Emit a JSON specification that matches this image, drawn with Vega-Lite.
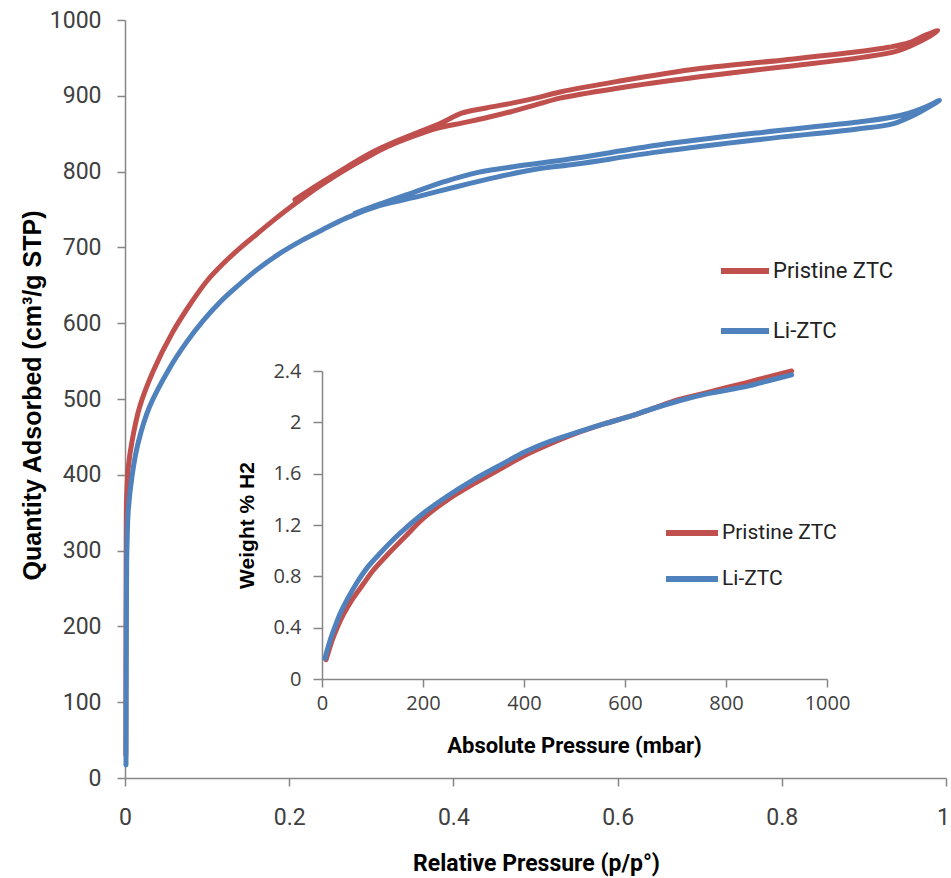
{
  "$schema": "https://vega.github.io/schema/vega-lite/v6.json",
  "width": 821,
  "height": 758,
  "autosize": "none",
  "padding": {"left": 125, "top": 20, "right": 5, "bottom": 100},
  "background": "white",
  "config": {
    "view": {"stroke": null},
    "axis": {"grid": false, "domainColor": "#868686", "tickColor": "#868686", "domainWidth": 1.5, "tickWidth": 1.5, "labelColor": "#404040", "titleColor": "#000000"},
    "legend": {"padding": 0}
  },
  "datasets": {
    "main": [
      {"sample": "Pristine ZTC", "p": 0.001, "q": 30},
      {"sample": "Pristine ZTC", "p": 0.0012, "q": 200},
      {"sample": "Pristine ZTC", "p": 0.0015, "q": 330},
      {"sample": "Pristine ZTC", "p": 0.002, "q": 372},
      {"sample": "Pristine ZTC", "p": 0.004, "q": 410},
      {"sample": "Pristine ZTC", "p": 0.0085, "q": 444},
      {"sample": "Pristine ZTC", "p": 0.018, "q": 490},
      {"sample": "Pristine ZTC", "p": 0.034, "q": 536},
      {"sample": "Pristine ZTC", "p": 0.058, "q": 588},
      {"sample": "Pristine ZTC", "p": 0.08, "q": 626},
      {"sample": "Pristine ZTC", "p": 0.1, "q": 656},
      {"sample": "Pristine ZTC", "p": 0.12, "q": 679},
      {"sample": "Pristine ZTC", "p": 0.14, "q": 699},
      {"sample": "Pristine ZTC", "p": 0.16, "q": 717},
      {"sample": "Pristine ZTC", "p": 0.18, "q": 735},
      {"sample": "Pristine ZTC", "p": 0.2, "q": 752},
      {"sample": "Pristine ZTC", "p": 0.22, "q": 768},
      {"sample": "Pristine ZTC", "p": 0.24, "q": 783},
      {"sample": "Pristine ZTC", "p": 0.26, "q": 797},
      {"sample": "Pristine ZTC", "p": 0.28, "q": 810},
      {"sample": "Pristine ZTC", "p": 0.3, "q": 822},
      {"sample": "Pristine ZTC", "p": 0.32, "q": 833},
      {"sample": "Pristine ZTC", "p": 0.34, "q": 842},
      {"sample": "Pristine ZTC", "p": 0.36, "q": 850},
      {"sample": "Pristine ZTC", "p": 0.38, "q": 857},
      {"sample": "Pristine ZTC", "p": 0.41, "q": 864},
      {"sample": "Pristine ZTC", "p": 0.44, "q": 871},
      {"sample": "Pristine ZTC", "p": 0.47, "q": 879},
      {"sample": "Pristine ZTC", "p": 0.5, "q": 888},
      {"sample": "Pristine ZTC", "p": 0.53, "q": 897},
      {"sample": "Pristine ZTC", "p": 0.6, "q": 910},
      {"sample": "Pristine ZTC", "p": 0.7, "q": 925},
      {"sample": "Pristine ZTC", "p": 0.8, "q": 938},
      {"sample": "Pristine ZTC", "p": 0.9, "q": 951},
      {"sample": "Pristine ZTC", "p": 0.94, "q": 959},
      {"sample": "Pristine ZTC", "p": 0.965, "q": 970},
      {"sample": "Pristine ZTC", "p": 0.99, "q": 986},
      {"sample": "Pristine ZTC", "p": 0.975, "q": 980},
      {"sample": "Pristine ZTC", "p": 0.955, "q": 970},
      {"sample": "Pristine ZTC", "p": 0.93, "q": 964},
      {"sample": "Pristine ZTC", "p": 0.9, "q": 959},
      {"sample": "Pristine ZTC", "p": 0.8, "q": 947},
      {"sample": "Pristine ZTC", "p": 0.7, "q": 936},
      {"sample": "Pristine ZTC", "p": 0.6, "q": 919},
      {"sample": "Pristine ZTC", "p": 0.53, "q": 905},
      {"sample": "Pristine ZTC", "p": 0.5, "q": 897},
      {"sample": "Pristine ZTC", "p": 0.47, "q": 890},
      {"sample": "Pristine ZTC", "p": 0.44, "q": 884},
      {"sample": "Pristine ZTC", "p": 0.41, "q": 877},
      {"sample": "Pristine ZTC", "p": 0.385, "q": 864},
      {"sample": "Pristine ZTC", "p": 0.36, "q": 853},
      {"sample": "Pristine ZTC", "p": 0.33, "q": 840},
      {"sample": "Pristine ZTC", "p": 0.3, "q": 825},
      {"sample": "Pristine ZTC", "p": 0.27, "q": 806},
      {"sample": "Pristine ZTC", "p": 0.24, "q": 786},
      {"sample": "Pristine ZTC", "p": 0.207, "q": 763},
      {"sample": "Li-ZTC", "p": 0.0012, "q": 17},
      {"sample": "Li-ZTC", "p": 0.0015, "q": 150},
      {"sample": "Li-ZTC", "p": 0.002, "q": 280},
      {"sample": "Li-ZTC", "p": 0.0025, "q": 310},
      {"sample": "Li-ZTC", "p": 0.004, "q": 353},
      {"sample": "Li-ZTC", "p": 0.0085, "q": 398},
      {"sample": "Li-ZTC", "p": 0.016, "q": 442},
      {"sample": "Li-ZTC", "p": 0.03, "q": 490},
      {"sample": "Li-ZTC", "p": 0.055, "q": 542},
      {"sample": "Li-ZTC", "p": 0.075, "q": 575},
      {"sample": "Li-ZTC", "p": 0.095, "q": 603},
      {"sample": "Li-ZTC", "p": 0.115, "q": 627},
      {"sample": "Li-ZTC", "p": 0.136, "q": 648},
      {"sample": "Li-ZTC", "p": 0.16, "q": 670},
      {"sample": "Li-ZTC", "p": 0.19, "q": 693},
      {"sample": "Li-ZTC", "p": 0.215, "q": 709},
      {"sample": "Li-ZTC", "p": 0.24, "q": 723},
      {"sample": "Li-ZTC", "p": 0.27, "q": 739},
      {"sample": "Li-ZTC", "p": 0.31, "q": 755},
      {"sample": "Li-ZTC", "p": 0.36, "q": 768},
      {"sample": "Li-ZTC", "p": 0.4, "q": 779},
      {"sample": "Li-ZTC", "p": 0.45, "q": 792},
      {"sample": "Li-ZTC", "p": 0.5, "q": 803},
      {"sample": "Li-ZTC", "p": 0.55, "q": 810},
      {"sample": "Li-ZTC", "p": 0.65, "q": 826},
      {"sample": "Li-ZTC", "p": 0.77, "q": 842},
      {"sample": "Li-ZTC", "p": 0.89, "q": 856},
      {"sample": "Li-ZTC", "p": 0.935, "q": 863},
      {"sample": "Li-ZTC", "p": 0.96, "q": 874},
      {"sample": "Li-ZTC", "p": 0.992, "q": 894},
      {"sample": "Li-ZTC", "p": 0.975, "q": 885},
      {"sample": "Li-ZTC", "p": 0.955, "q": 877},
      {"sample": "Li-ZTC", "p": 0.93, "q": 871},
      {"sample": "Li-ZTC", "p": 0.89, "q": 865},
      {"sample": "Li-ZTC", "p": 0.77, "q": 851},
      {"sample": "Li-ZTC", "p": 0.65, "q": 835},
      {"sample": "Li-ZTC", "p": 0.55, "q": 818},
      {"sample": "Li-ZTC", "p": 0.49, "q": 809},
      {"sample": "Li-ZTC", "p": 0.43, "q": 799},
      {"sample": "Li-ZTC", "p": 0.39, "q": 787},
      {"sample": "Li-ZTC", "p": 0.35, "q": 772},
      {"sample": "Li-ZTC", "p": 0.31, "q": 757},
      {"sample": "Li-ZTC", "p": 0.28, "q": 745}
    ],
    "inset": [
      {"sample": "Pristine ZTC", "P": 8, "W": 0.15},
      {"sample": "Pristine ZTC", "P": 12, "W": 0.2},
      {"sample": "Pristine ZTC", "P": 20, "W": 0.3},
      {"sample": "Pristine ZTC", "P": 30, "W": 0.4},
      {"sample": "Pristine ZTC", "P": 42, "W": 0.5},
      {"sample": "Pristine ZTC", "P": 60, "W": 0.62},
      {"sample": "Pristine ZTC", "P": 80, "W": 0.73},
      {"sample": "Pristine ZTC", "P": 100, "W": 0.84},
      {"sample": "Pristine ZTC", "P": 130, "W": 0.97},
      {"sample": "Pristine ZTC", "P": 165, "W": 1.11},
      {"sample": "Pristine ZTC", "P": 200, "W": 1.25},
      {"sample": "Pristine ZTC", "P": 250, "W": 1.4},
      {"sample": "Pristine ZTC", "P": 300, "W": 1.52},
      {"sample": "Pristine ZTC", "P": 350, "W": 1.63},
      {"sample": "Pristine ZTC", "P": 400, "W": 1.74},
      {"sample": "Pristine ZTC", "P": 450, "W": 1.83},
      {"sample": "Pristine ZTC", "P": 500, "W": 1.91},
      {"sample": "Pristine ZTC", "P": 560, "W": 1.99},
      {"sample": "Pristine ZTC", "P": 604, "W": 2.04},
      {"sample": "Pristine ZTC", "P": 650, "W": 2.1},
      {"sample": "Pristine ZTC", "P": 709, "W": 2.18},
      {"sample": "Pristine ZTC", "P": 760, "W": 2.23},
      {"sample": "Pristine ZTC", "P": 841, "W": 2.31},
      {"sample": "Pristine ZTC", "P": 880, "W": 2.35},
      {"sample": "Pristine ZTC", "P": 930, "W": 2.4},
      {"sample": "Li-ZTC", "P": 6, "W": 0.16},
      {"sample": "Li-ZTC", "P": 10, "W": 0.22},
      {"sample": "Li-ZTC", "P": 16, "W": 0.3},
      {"sample": "Li-ZTC", "P": 25, "W": 0.4},
      {"sample": "Li-ZTC", "P": 36, "W": 0.51},
      {"sample": "Li-ZTC", "P": 50, "W": 0.62},
      {"sample": "Li-ZTC", "P": 69, "W": 0.75},
      {"sample": "Li-ZTC", "P": 90, "W": 0.87},
      {"sample": "Li-ZTC", "P": 115, "W": 0.98},
      {"sample": "Li-ZTC", "P": 150, "W": 1.12},
      {"sample": "Li-ZTC", "P": 200, "W": 1.29},
      {"sample": "Li-ZTC", "P": 250, "W": 1.43},
      {"sample": "Li-ZTC", "P": 299, "W": 1.55},
      {"sample": "Li-ZTC", "P": 350, "W": 1.66},
      {"sample": "Li-ZTC", "P": 402, "W": 1.77},
      {"sample": "Li-ZTC", "P": 450, "W": 1.85},
      {"sample": "Li-ZTC", "P": 511, "W": 1.93},
      {"sample": "Li-ZTC", "P": 560, "W": 1.99},
      {"sample": "Li-ZTC", "P": 604, "W": 2.04},
      {"sample": "Li-ZTC", "P": 650, "W": 2.1},
      {"sample": "Li-ZTC", "P": 709, "W": 2.17},
      {"sample": "Li-ZTC", "P": 760, "W": 2.22},
      {"sample": "Li-ZTC", "P": 841, "W": 2.28},
      {"sample": "Li-ZTC", "P": 880, "W": 2.32},
      {"sample": "Li-ZTC", "P": 930, "W": 2.37}
    ]
  },
  "layer": [
    {
      "data": {"name": "main"},
      "mark": {"type": "line", "strokeWidth": 5, "strokeCap": "round", "strokeJoin": "round", "interpolate": "catmull-rom"},
      "encoding": {
        "x": {
          "field": "p", "type": "quantitative",
          "scale": {"domain": [0, 1], "nice": false, "zero": false},
          "axis": {
            "orient": "bottom", "title": "Relative Pressure (p/p°)", "values": [0, 0.2, 0.4, 0.6, 0.8, 1], "format": "~g",
            "tickSize": 8, "labelPadding": 20, "labelFont": "Roboto", "labelFontSize": 23,
            "labelOffset": {"condition": {"test": "datum.value === 1", "value": -3}, "value": 0},
            "titleFont": "Roboto", "titleFontSize": 23, "titleFontWeight": "bold",
            "titleX": 411, "titleY": 92, "titleAlign": "center", "titleBaseline": "alphabetic", "labelFlush": false
          }
        },
        "y": {
          "field": "q", "type": "quantitative",
          "scale": {"domain": [0, 1000], "nice": false},
          "axis": {
            "orient": "left", "title": "Quantity Adsorbed (cm³/g STP)", "values": [0, 100, 200, 300, 400, 500, 600, 700, 800, 900, 1000], "format": "d",
            "tickSize": 8, "labelPadding": 16, "labelFont": "Roboto", "labelFontSize": 23,
            "titleFont": "Liberation Sans, Arial, sans-serif", "titleFontSize": 25, "titleFontWeight": "bold",
            "titleAngle": -90, "titleX": -85, "titleY": 375, "titleAlign": "center", "titleBaseline": "alphabetic"
          }
        },
        "color": {
          "field": "sample", "type": "nominal",
          "scale": {"domain": ["Pristine ZTC", "Li-ZTC"], "range": ["#C0504D", "#4F81BD"]},
          "legend": {
            "orient": "none", "legendX": 593, "legendY": 241, "title": null, "symbolType": "stroke", "symbolSize": 2304,
            "symbolStrokeWidth": 6, "clipHeight": 20, "rowPadding": 38, "labelOffset": 1,
            "labelFont": "Roboto", "labelFontSize": 22, "labelColor": "#222222"
          }
        },
        "order": {"value": null}
      }
    },
    {
      "data": {"name": "inset"},
      "mark": {"type": "line", "strokeWidth": 5, "strokeCap": "round", "strokeJoin": "round", "interpolate": "catmull-rom"},
      "encoding": {
        "x": {
          "field": "P", "type": "quantitative",
          "scale": {"domain": [0, 1000], "range": [197, 702], "nice": false, "zero": false},
          "axis": {
            "orient": "bottom", "offset": -99, "title": "Absolute Pressure (mbar)", "values": [0, 200, 400, 600, 800, 1000], "format": "d",
            "tickSize": 8, "labelPadding": 6, "labelFont": "Open Sans, sans-serif", "labelFontSize": 20,
            "titleFont": "Roboto", "titleFontSize": 22, "titleFontWeight": "bold",
            "titleX": 449, "titleY": 73, "titleAlign": "center", "titleBaseline": "alphabetic", "labelFlush": false
          }
        },
        "y": {
          "field": "W", "type": "quantitative",
          "scale": {"domain": [0, 2.4], "range": [659, 351], "nice": false},
          "axis": {
            "orient": "left", "offset": -197, "title": "Weight % H2", "values": [0, 0.4, 0.8, 1.2, 1.6, 2, 2.4], "format": "~g",
            "tickSize": 9, "labelPadding": 12, "labelFont": "Open Sans, sans-serif", "labelFontSize": 20,
            "titleFont": "Liberation Sans, Arial, sans-serif", "titleFontSize": 21, "titleFontWeight": "bold",
            "titleAngle": -90, "titleX": -69, "titleY": 505, "titleAlign": "center", "titleBaseline": "alphabetic"
          }
        },
        "color": {
          "field": "sample", "type": "nominal",
          "scale": {"domain": ["Pristine ZTC", "Li-ZTC"], "range": ["#C0504D", "#4F81BD"]},
          "legend": {
            "orient": "none", "legendX": 538, "legendY": 503, "title": null, "symbolType": "stroke", "symbolSize": 2704,
            "symbolStrokeWidth": 6, "clipHeight": 20, "rowPadding": 25, "labelOffset": 1,
            "labelFont": "Roboto", "labelFontSize": 21, "labelColor": "#222222"
          }
        },
        "order": {"value": null}
      }
    }
  ],
  "resolve": {
    "scale": {"x": "independent", "y": "independent", "color": "independent"},
    "axis": {"x": "independent", "y": "independent"},
    "legend": {"color": "independent"}
  }
}
